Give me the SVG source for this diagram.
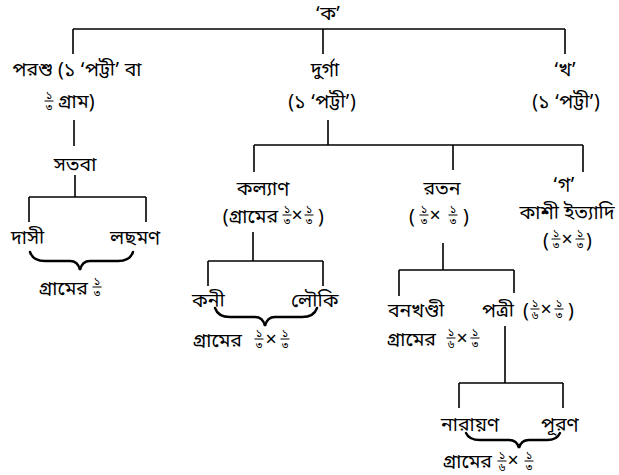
<svg xmlns="http://www.w3.org/2000/svg" width="619" height="475" viewBox="0 0 619 475">
  <style>
    text { font-family: "Noto Sans Bengali", "Noto Serif Bengali", "Noto Sans", "DejaVu Sans", sans-serif; font-size: 19.5px; fill: #000; }
    .c { text-anchor: middle; }
    .e { text-anchor: end; }
    .fn, .fd { font-size: 11px; text-anchor: middle; }
    .bar { stroke: #000; stroke-width: 1; }
    .link { stroke: #000; stroke-width: 1.6; fill: none; }
    .brace { stroke: #000; stroke-width: 2.4; fill: none; stroke-linecap: round; }
  </style>
  <defs>
    <!-- stacked fractions: numerator ১ over 3 or 6 -->
    <g id="f3"><text class="fn" y="-2">১</text><line class="bar" x1="-4.5" x2="4.5" y1="0" y2="0"/><text class="fd" y="10">৩</text></g>
    <g id="f6"><text class="fn" y="-2">১</text><line class="bar" x1="-4.5" x2="4.5" y1="0" y2="0"/><text class="fd" y="10">৬</text></g>
  </defs>

  <!-- connectors -->
  <g id="connectors">
    <path class="link" d="M73 29 H565 M73 29 V54 M323 29 V54 M565 29 V54"/>
    <path class="link" d="M74 120 V146"/>
    <path class="link" d="M75 175 V197 M29 197 H146 M29 197 V222 M146 197 V222"/>
    <path class="link" d="M328 120 V145 M254 145 H583 M254 145 V172 M453 145 V170 M583 145 V172"/>
    <path class="link" d="M253 232 V261 M208 261 H323 M208 261 V286 M323 261 V286"/>
    <path class="link" d="M443 243 V270 M399 270 H514 M399 270 V296 M514 270 V293"/>
    <path class="link" d="M505 326 V383 M459 383 H563 M459 383 V408 M563 383 V408"/>
    <path class="brace" d="M30 252 Q33 261 45 261 L70 261 Q78 261 80 270 Q82 261 90 261 L118 261 Q130 261 133 252"/>
    <path class="brace" d="M215 308 Q218 317 230 317 L255 317 Q263 317 265 326 Q267 317 275 317 L302 317 Q314 317 317 308"/>
    <path class="brace" d="M466 433 Q469 440 480 440 L509 440 Q517 440 519 448 Q521 440 529 440 L547 440 Q557 440 560 433"/>
  </g>

  <g id="node-ka"><text class="c" x="328" y="20">‘ক’</text></g>

  <g id="node-parashu">
    <text class="c" x="77" y="76">পরশু (১ ‘পট্টী’ বা</text>
    <use href="#f3" x="49" y="101"/>
    <text x="58" y="108">গ্রাম)</text>
  </g>

  <g id="node-durga">
    <text class="c" x="325" y="76">দুর্গা</text>
    <text class="c" x="322" y="108">(১ ‘পট্টী’)</text>
  </g>

  <g id="node-kha">
    <text class="c" x="565" y="76">‘খ’</text>
    <text class="c" x="566" y="108">(১ ‘পট্টী’)</text>
  </g>

  <g id="node-satba"><text class="c" x="75" y="171">সতবা</text></g>

  <g id="node-dasi"><text x="11" y="244">দাসী</text></g>
  <g id="node-lachhman"><text x="110" y="244">লছমণ</text></g>
  <g id="share-satba">
    <text class="e" x="88" y="295">গ্রামের</text>
    <use href="#f3" x="97" y="287"/>
  </g>

  <g id="node-kalyan">
    <text class="c" x="263" y="195">কল্যাণ</text>
    <text class="e" x="278" y="223">(গ্রামের</text>
    <use href="#f3" x="287" y="215"/>
    <text class="c" x="297" y="222">×</text>
    <use href="#f3" x="309" y="215"/>
    <text class="c" x="321" y="223">)</text>
  </g>

  <g id="node-ratan">
    <text class="c" x="442" y="195">রতন</text>
    <text class="c" x="412" y="223">(</text>
    <use href="#f3" x="424" y="215"/>
    <text class="c" x="435" y="222">×</text>
    <use href="#f3" x="453" y="215"/>
    <text class="c" x="466" y="223">)</text>
  </g>

  <g id="node-ga">
    <text class="c" x="564" y="191">‘গ’</text>
    <text class="c" x="567" y="219">কাশী ইত্যাদি</text>
    <text class="c" x="546" y="247">(</text>
    <use href="#f3" x="556" y="239"/>
    <text class="c" x="567" y="246">×</text>
    <use href="#f3" x="580" y="239"/>
    <text class="c" x="589" y="247">)</text>
  </g>

  <g id="node-kani"><text x="192" y="307">কনী</text></g>
  <g id="node-louki"><text x="291" y="307">লৌকি</text></g>
  <g id="share-kalyan">
    <text class="e" x="242" y="347">গ্রামের</text>
    <use href="#f3" x="259" y="339"/>
    <text class="c" x="271" y="346">×</text>
    <use href="#f3" x="285" y="339"/>
  </g>

  <g id="node-banakhandi">
    <text x="388" y="317">বনখণ্ডী</text>
    <text class="e" x="436" y="346">গ্রামের</text>
    <use href="#f6" x="451" y="338"/>
    <text class="c" x="462" y="345">×</text>
    <use href="#f3" x="475" y="338"/>
  </g>

  <g id="node-patri">
    <text x="482" y="317">পত্রী</text>
    <text class="c" x="526" y="317">(</text>
    <use href="#f6" x="535" y="309"/>
    <text class="c" x="546" y="316">×</text>
    <use href="#f3" x="559" y="309"/>
    <text class="c" x="571" y="317">)</text>
  </g>

  <g id="node-narayan"><text x="441" y="431">নারায়ণ</text></g>
  <g id="node-puran"><text x="541" y="431">পূরণ</text></g>
  <g id="share-patri">
    <text class="e" x="492" y="468">গ্রামের</text>
    <use href="#f6" x="502" y="461"/>
    <text class="c" x="513" y="467">×</text>
    <use href="#f3" x="529" y="461"/>
  </g>
</svg>
